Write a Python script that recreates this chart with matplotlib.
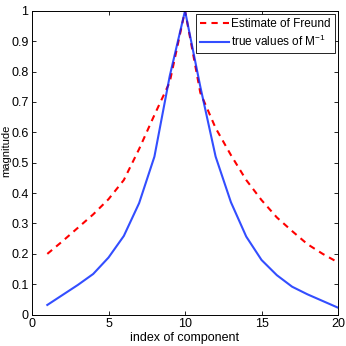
import matplotlib
matplotlib.use("Agg")
import matplotlib.pyplot as plt
from matplotlib import font_manager

index = list(range(1, 21))
freund = [0.200, 0.242, 0.286, 0.330, 0.380, 0.443, 0.545, 0.657, 0.765, 1.000,
          0.730, 0.614, 0.525, 0.443, 0.377, 0.320, 0.275, 0.232, 0.200, 0.172]
true_vals = [0.032, 0.065, 0.098, 0.134, 0.188, 0.259, 0.367, 0.520, 0.785, 1.000,
             0.750, 0.520, 0.370, 0.257, 0.180, 0.130, 0.092, 0.067, 0.045, 0.023]
xticks = [0, 5, 10, 15, 20]
yticks = [0, 0.1, 0.2, 0.3, 0.4, 0.5, 0.6, 0.7, 0.8, 0.9, 1]

names = {f.name for f in font_manager.fontManager.ttflist}
fam = 'Liberation Sans Narrow' if 'Liberation Sans Narrow' in names else 'Liberation Sans'
plt.rcParams['font.family'] = [fam, 'DejaVu Sans']
plt.rcParams['mathtext.fontset'] = 'custom'
plt.rcParams['mathtext.rm'] = fam

fig = plt.figure(figsize=(3.46, 3.46), dpi=100)
ax = fig.add_axes([0.0925, 0.0905, 0.8845, 0.8785])

ax.plot(index, freund, '--', color='#ff0000', lw=1.5, dashes=(3, 2.5), label='Estimate of Freund')
ax.plot(index, true_vals, '-', color='#0022ff', lw=1.5, alpha=0.8, label='true values of M$^{-1}$')

ax.set_xlim(0, 20)
ax.set_ylim(0, 1)
ax.set_xticks(xticks)
ax.set_yticks(yticks)
ax.set_yticklabels(['0', '0.1', '0.2', '0.3', '0.4', '0.5', '0.6', '0.7', '0.8', '0.9', '1'])
ax.tick_params(direction='in', top=True, right=True, length=3, width=0.6, labelsize=9, pad=2.5)
for s in ax.spines.values():
    s.set_linewidth(0.7)

ax.set_xlabel('index of component', fontsize=9, labelpad=1)
ax.set_ylabel('magnitude', fontsize=8, va='bottom')
ax.yaxis.set_label_coords(-0.068, 0.54)

leg = ax.legend(loc='upper right', fontsize=8.5, frameon=True, fancybox=False,
                edgecolor='black', framealpha=1, handlelength=2.4, handletextpad=0.2,
                borderpad=0.35, labelspacing=0.3, borderaxespad=0.3)
leg.get_frame().set_linewidth(0.6)

fig.savefig('out.png', dpi=100)
